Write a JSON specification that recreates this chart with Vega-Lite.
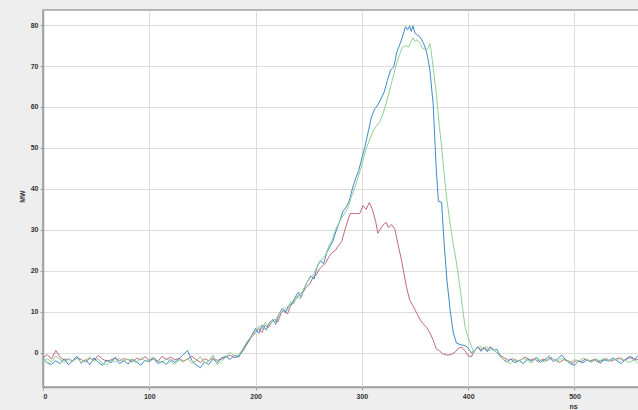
{
"$schema": "https://vega.github.io/schema/vega-lite/v6.json",
"width": 596, "height": 377,
"autosize": "none",
"padding": {"left": 43, "top": 10, "right": 0, "bottom": 23},
"background": "#eeeeee",
"config": {
  "view": {"fill": "white", "stroke": "#a0a0a0", "strokeWidth": 1.5},
  "axis": {"labelFont": "Liberation Sans", "labelFontSize": 7, "labelFontWeight": "bold", "labelColor": "#333333",
           "titleFont": "Liberation Sans", "titleFontSize": 7, "titleFontWeight": "bold", "titleColor": "#333333",
           "gridColor": "#dcdcdc", "gridWidth": 1, "domainColor": "#a0a0a0", "domainWidth": 1.5,
           "tickColor": "#a0a0a0", "tickSize": 3, "labelPadding": 2}
},
"datasets": {
 "blue": [
 {"t":0,"v":-1.5},{"t":4,"v":-2.4},{"t":8,"v":-2.8},{"t":12,"v":-1.9},{"t":16,"v":-2.6},{"t":20,"v":-1.4},{"t":24,"v":-2.9},{"t":28,"v":-1.8},{"t":32,"v":-0.8},{"t":36,"v":-2.5},{"t":40,"v":-1.6},{"t":44,"v":-2.9},{"t":48,"v":-1.2},{"t":52,"v":-2.3},{"t":56,"v":-3.0},{"t":60,"v":-1.7},{"t":64,"v":-2.4},{"t":68,"v":-1.1},{"t":72,"v":-2.6},{"t":76,"v":-1.9},{"t":80,"v":-2.7},{"t":84,"v":-1.5},{"t":88,"v":-2.2},{"t":92,"v":-3.0},{"t":96,"v":-1.8},{"t":100,"v":-2.1},{"t":104,"v":-1.3},{"t":108,"v":-2.6},{"t":112,"v":-2.0},{"t":116,"v":-2.8},{"t":120,"v":-1.6},{"t":124,"v":-2.3},{"t":128,"v":-1.4},{"t":132,"v":-0.4},{"t":136,"v":0.6},{"t":140,"v":-1.8},{"t":144,"v":-2.9},{"t":148,"v":-3.6},{"t":152,"v":-2.2},{"t":156,"v":-2.8},{"t":160,"v":-1.5},{"t":164,"v":-2.4},{"t":168,"v":-1.2},{"t":172,"v":-0.8},{"t":176,"v":-1.6},{"t":180,"v":-0.5},{"t":184,"v":-1.0},
 {"t":188,"v":0.7},{"t":192,"v":2.5},{"t":196,"v":4.2},{"t":200,"v":6.0},{"t":203,"v":4.8},{"t":206,"v":6.8},{"t":210,"v":5.6},{"t":213,"v":7.4},{"t":216,"v":8.2},{"t":219,"v":7.0},{"t":222,"v":9.5},{"t":225,"v":10.8},{"t":228,"v":9.8},{"t":231,"v":11.6},{"t":234,"v":12.0},{"t":237,"v":13.5},{"t":240,"v":14.8},{"t":243,"v":13.6},{"t":246,"v":16.0},{"t":249,"v":17.5},{"t":252,"v":18.8},{"t":255,"v":18.0},{"t":258,"v":21.2},{"t":261,"v":22.5},{"t":264,"v":21.8},{"t":267,"v":24.5},{"t":270,"v":26.0},{"t":273,"v":27.5},{"t":276,"v":30.0},{"t":279,"v":32.0},{"t":282,"v":34.5},{"t":285,"v":35.5},{"t":288,"v":37.0},{"t":291,"v":40.0},{"t":294,"v":42.5},{"t":297,"v":44.5},{"t":300,"v":47.5},{"t":303,"v":50.5},{"t":306,"v":54.0},{"t":309,"v":57.6},{"t":312,"v":59.5},{"t":315,"v":60.5},{"t":318,"v":62.0},{"t":321,"v":63.7},{"t":324,"v":66.5},{"t":327,"v":69.0},{"t":330,"v":69.8},{"t":333,"v":73.5},{"t":336,"v":75.5},{"t":338,"v":77.0},{"t":341,"v":79.6},{"t":343,"v":78.8},{"t":345,"v":79.8},{"t":346.5,"v":78.4},{"t":348,"v":79.8},{"t":350,"v":78.0},{"t":352,"v":77.6},{"t":355,"v":77.0},{"t":358,"v":75.5},{"t":360,"v":74.2},{"t":362,"v":72.0},{"t":364,"v":69.0},{"t":366,"v":63.5},{"t":367,"v":60.9},{"t":369,"v":50.0},{"t":370,"v":44.6},{"t":372,"v":37.0},{"t":375,"v":36.8},{"t":377,"v":28.0},{"t":380,"v":17.8},{"t":383,"v":10.5},{"t":386,"v":4.9},{"t":389,"v":2.4},{"t":393,"v":2.0},{"t":397,"v":1.8},{"t":400,"v":1.2},{"t":403,"v":0.0},{"t":406,"v":0.6},{"t":409,"v":1.5},{"t":412,"v":0.4},{"t":415,"v":1.2},{"t":418,"v":0.3},{"t":421,"v":1.4},{"t":424,"v":0.6},{"t":427,"v":0.9},{"t":430,"v":-0.8},{"t":433,"v":-1.6},{"t":436,"v":-2.2},{"t":440,"v":-1.5},{"t":444,"v":-2.4},{"t":448,"v":-1.8},{"t":452,"v":-2.6},{"t":456,"v":-1.4},{"t":460,"v":-2.0},{"t":464,"v":-1.2},{"t":468,"v":-2.3},{"t":472,"v":-1.6},{"t":476,"v":-0.9},{"t":480,"v":-2.1},{"t":484,"v":-1.5},{"t":488,"v":-0.5},{"t":492,"v":-1.8},{"t":496,"v":-2.6},{"t":500,"v":-3.0},{"t":504,"v":-1.9},{"t":508,"v":-2.4},{"t":512,"v":-1.6},{"t":516,"v":-2.2},{"t":520,"v":-1.4},{"t":524,"v":-2.5},{"t":528,"v":-1.7},{"t":532,"v":-2.0},{"t":536,"v":-1.2},{"t":540,"v":-1.9},{"t":544,"v":-2.6},{"t":548,"v":-1.5},{"t":552,"v":-0.8},{"t":556,"v":-1.8},{"t":560,"v":-0.6}
 ],
 "green": [
 {"t":0,"v":-2.0},{"t":4,"v":-1.4},{"t":8,"v":-2.2},{"t":12,"v":-0.8},{"t":16,"v":-1.6},{"t":20,"v":-2.4},{"t":24,"v":-1.5},{"t":28,"v":-2.0},{"t":32,"v":-1.2},{"t":36,"v":-2.3},{"t":40,"v":-1.8},{"t":44,"v":-1.0},{"t":48,"v":-2.1},{"t":52,"v":-1.4},{"t":56,"v":-2.6},{"t":60,"v":-2.9},{"t":64,"v":-1.8},{"t":68,"v":-2.2},{"t":72,"v":-1.3},{"t":76,"v":-2.0},{"t":80,"v":-1.5},{"t":84,"v":-1.8},{"t":88,"v":-2.4},{"t":92,"v":-1.1},{"t":96,"v":-2.0},{"t":100,"v":-1.6},{"t":104,"v":-1.0},{"t":108,"v":-1.9},{"t":112,"v":-2.3},{"t":116,"v":-1.4},{"t":120,"v":-2.0},{"t":124,"v":-2.8},{"t":128,"v":-1.7},{"t":132,"v":-2.2},{"t":136,"v":-1.3},{"t":140,"v":-2.5},{"t":144,"v":-1.9},{"t":148,"v":-0.9},{"t":152,"v":-2.4},{"t":156,"v":-2.0},{"t":160,"v":-0.5},{"t":164,"v":-2.8},{"t":168,"v":-2.0},{"t":172,"v":-1.0},{"t":176,"v":0.2},{"t":180,"v":-0.8},{"t":184,"v":-0.5},
 {"t":188,"v":1.0},{"t":192,"v":2.8},{"t":196,"v":4.0},{"t":200,"v":5.5},{"t":203,"v":6.5},{"t":206,"v":5.8},{"t":209,"v":7.5},{"t":212,"v":6.5},{"t":215,"v":8.0},{"t":218,"v":7.5},{"t":221,"v":9.0},{"t":224,"v":10.2},{"t":227,"v":11.0},{"t":230,"v":10.5},{"t":233,"v":12.5},{"t":236,"v":12.0},{"t":239,"v":14.0},{"t":242,"v":13.2},{"t":245,"v":15.5},{"t":248,"v":17.0},{"t":251,"v":18.2},{"t":254,"v":19.0},{"t":257,"v":20.5},{"t":260,"v":22.0},{"t":263,"v":23.0},{"t":266,"v":24.0},{"t":269,"v":26.2},{"t":272,"v":27.5},{"t":275,"v":30.0},{"t":278,"v":31.5},{"t":281,"v":33.0},{"t":284,"v":34.2},{"t":287,"v":35.5},{"t":290,"v":38.0},{"t":293,"v":40.0},{"t":296,"v":42.5},{"t":299,"v":45.0},{"t":302,"v":48.0},{"t":305,"v":50.5},{"t":308,"v":52.5},{"t":311,"v":54.4},{"t":314,"v":55.5},{"t":317,"v":56.5},{"t":320,"v":58.5},{"t":323,"v":61.0},{"t":326,"v":64.0},{"t":329,"v":67.0},{"t":332,"v":70.0},{"t":335,"v":72.5},{"t":338,"v":74.5},{"t":341,"v":75.0},{"t":344,"v":74.6},{"t":346,"v":75.8},{"t":348,"v":76.8},{"t":350,"v":76.0},{"t":352,"v":76.4},{"t":355,"v":75.5},{"t":357,"v":74.3},{"t":360,"v":74.0},{"t":362,"v":74.2},{"t":364,"v":75.5},{"t":365,"v":74.0},{"t":367,"v":69.8},{"t":370,"v":63.3},{"t":373,"v":55.0},{"t":375,"v":50.3},{"t":378,"v":42.0},{"t":380,"v":37.3},{"t":383,"v":31.5},{"t":386,"v":26.5},{"t":389,"v":22.0},{"t":392,"v":16.5},{"t":395,"v":10.5},{"t":397,"v":6.4},{"t":400,"v":3.8},{"t":402,"v":2.4},{"t":405,"v":0.3},{"t":408,"v":1.0},{"t":411,"v":1.8},{"t":414,"v":0.8},{"t":417,"v":1.6},{"t":420,"v":0.5},{"t":423,"v":1.2},{"t":426,"v":0.2},{"t":429,"v":-0.5},{"t":432,"v":-1.4},{"t":436,"v":-2.0},{"t":440,"v":-2.6},{"t":444,"v":-1.5},{"t":448,"v":-2.0},{"t":452,"v":-1.2},{"t":456,"v":-1.9},{"t":460,"v":-2.4},{"t":464,"v":-1.0},{"t":468,"v":-1.8},{"t":472,"v":-2.2},{"t":476,"v":-0.6},{"t":480,"v":-1.5},{"t":484,"v":-2.0},{"t":488,"v":-1.3},{"t":492,"v":-1.9},{"t":496,"v":-2.4},{"t":500,"v":-1.6},{"t":504,"v":-2.0},{"t":508,"v":-1.2},{"t":512,"v":-1.7},{"t":516,"v":-2.3},{"t":520,"v":-1.5},{"t":524,"v":-1.9},{"t":528,"v":-1.3},{"t":532,"v":-2.0},{"t":536,"v":-1.5},{"t":540,"v":-1.8},{"t":544,"v":-1.1},{"t":548,"v":-1.9},{"t":552,"v":-2.3},{"t":556,"v":-1.6},{"t":560,"v":-2.6}
 ],
 "red": [
 {"t":0,"v":-1.2},{"t":4,"v":-0.4},{"t":8,"v":-1.5},{"t":12,"v":0.6},{"t":16,"v":-1.0},{"t":20,"v":-1.8},{"t":24,"v":-1.4},{"t":28,"v":-2.0},{"t":32,"v":-1.2},{"t":36,"v":-1.6},{"t":40,"v":-2.2},{"t":44,"v":-1.3},{"t":48,"v":-1.8},{"t":52,"v":-0.6},{"t":56,"v":-1.5},{"t":60,"v":-2.0},{"t":64,"v":-1.7},{"t":68,"v":-1.2},{"t":72,"v":-1.9},{"t":76,"v":-1.4},{"t":80,"v":-1.6},{"t":84,"v":-2.2},{"t":88,"v":-1.3},{"t":92,"v":-1.7},{"t":96,"v":-0.9},{"t":100,"v":-1.8},{"t":104,"v":-1.4},{"t":108,"v":-2.1},{"t":112,"v":-0.8},{"t":116,"v":-1.6},{"t":120,"v":-1.0},{"t":124,"v":-1.7},{"t":128,"v":-1.3},{"t":132,"v":-2.0},{"t":136,"v":-1.5},{"t":140,"v":-0.8},{"t":144,"v":-1.6},{"t":148,"v":-2.3},{"t":152,"v":-1.4},{"t":156,"v":-1.9},{"t":160,"v":-1.2},{"t":164,"v":-1.8},{"t":168,"v":-1.5},{"t":172,"v":-1.0},{"t":176,"v":-0.5},{"t":180,"v":-1.2},{"t":184,"v":-0.8},
 {"t":188,"v":0.5},{"t":192,"v":2.2},{"t":196,"v":3.8},{"t":200,"v":5.0},{"t":203,"v":6.0},{"t":206,"v":5.0},{"t":209,"v":6.8},{"t":212,"v":6.2},{"t":215,"v":7.5},{"t":218,"v":8.2},{"t":221,"v":7.6},{"t":224,"v":9.8},{"t":227,"v":10.5},{"t":230,"v":9.5},{"t":233,"v":11.5},{"t":236,"v":12.5},{"t":239,"v":13.5},{"t":242,"v":14.5},{"t":245,"v":15.0},{"t":248,"v":16.2},{"t":251,"v":16.8},{"t":254,"v":18.5},{"t":257,"v":19.0},{"t":260,"v":20.5},{"t":263,"v":21.2},{"t":266,"v":22.0},{"t":269,"v":23.5},{"t":272,"v":24.5},{"t":275,"v":25.0},{"t":278,"v":26.2},{"t":281,"v":27.2},{"t":284,"v":30.0},{"t":287,"v":32.5},{"t":289,"v":34.0},{"t":292,"v":34.0},{"t":295,"v":34.0},{"t":298,"v":34.0},{"t":301,"v":36.0},{"t":304,"v":35.0},{"t":307,"v":36.7},{"t":310,"v":34.9},{"t":313,"v":32.0},{"t":315,"v":29.2},{"t":318,"v":30.5},{"t":321,"v":31.5},{"t":323,"v":31.8},{"t":325,"v":30.6},{"t":328,"v":31.3},{"t":331,"v":30.2},{"t":334,"v":26.5},{"t":337,"v":23.0},{"t":339,"v":20.2},{"t":342,"v":16.0},{"t":345,"v":12.9},{"t":348,"v":11.5},{"t":351,"v":10.0},{"t":355,"v":8.0},{"t":358,"v":7.0},{"t":361,"v":6.2},{"t":364,"v":4.9},{"t":367,"v":3.2},{"t":370,"v":1.0},{"t":373,"v":0.5},{"t":376,"v":-0.2},{"t":380,"v":-0.5},{"t":384,"v":-0.4},{"t":388,"v":0.3},{"t":391,"v":1.2},{"t":394,"v":1.4},{"t":397,"v":0.5},{"t":400,"v":-0.7},{"t":403,"v":-0.9},{"t":406,"v":0.5},{"t":409,"v":1.5},{"t":412,"v":0.8},{"t":415,"v":1.4},{"t":418,"v":0.6},{"t":421,"v":1.5},{"t":424,"v":0.8},{"t":427,"v":0.0},{"t":430,"v":-0.5},{"t":434,"v":-1.2},{"t":438,"v":-1.8},{"t":442,"v":-1.4},{"t":446,"v":-2.1},{"t":450,"v":-1.6},{"t":454,"v":-1.0},{"t":458,"v":-1.8},{"t":462,"v":-1.4},{"t":466,"v":-2.2},{"t":470,"v":-1.5},{"t":474,"v":-1.9},{"t":478,"v":-1.2},{"t":482,"v":-1.8},{"t":486,"v":-2.3},{"t":490,"v":-1.6},{"t":494,"v":-1.9},{"t":498,"v":-2.5},{"t":502,"v":-1.8},{"t":506,"v":-2.2},{"t":510,"v":-1.5},{"t":514,"v":-2.0},{"t":518,"v":-1.6},{"t":522,"v":-2.2},{"t":526,"v":-1.8},{"t":530,"v":-1.4},{"t":534,"v":-2.0},{"t":538,"v":-1.6},{"t":542,"v":-1.2},{"t":546,"v":-1.9},{"t":550,"v":-1.4},{"t":554,"v":-1.0},{"t":558,"v":-1.7},{"t":560,"v":-1.5}
 ]
},
"encoding": {
  "x": {"field": "t", "type": "quantitative", "scale": {"domain": [0, 560.7], "nice": false},
        "axis": {"title": "ns", "values": [0,100,200,300,400,500], "titleX": 530, "titleY": 15, "titleAnchor": null}},
  "y": {"field": "v", "type": "quantitative", "scale": {"domain": [-8.3, 83.66], "nice": false, "zero": false},
        "axis": {"title": "MW", "values": [0,10,20,30,40,50,60,70,80], "titleX": -18, "titleY": 186}}
},
"layer": [
  {"data": {"name": "red"}, "mark": {"type": "line", "color": "#c2687e", "strokeWidth": 1, "clip": true}},
  {"data": {"name": "blue"}, "mark": {"type": "line", "color": "#3d8bc9", "strokeWidth": 1, "clip": true}},
  {"data": {"name": "green"}, "mark": {"type": "line", "color": "#8fd093", "strokeWidth": 1, "clip": true}}
]
}
